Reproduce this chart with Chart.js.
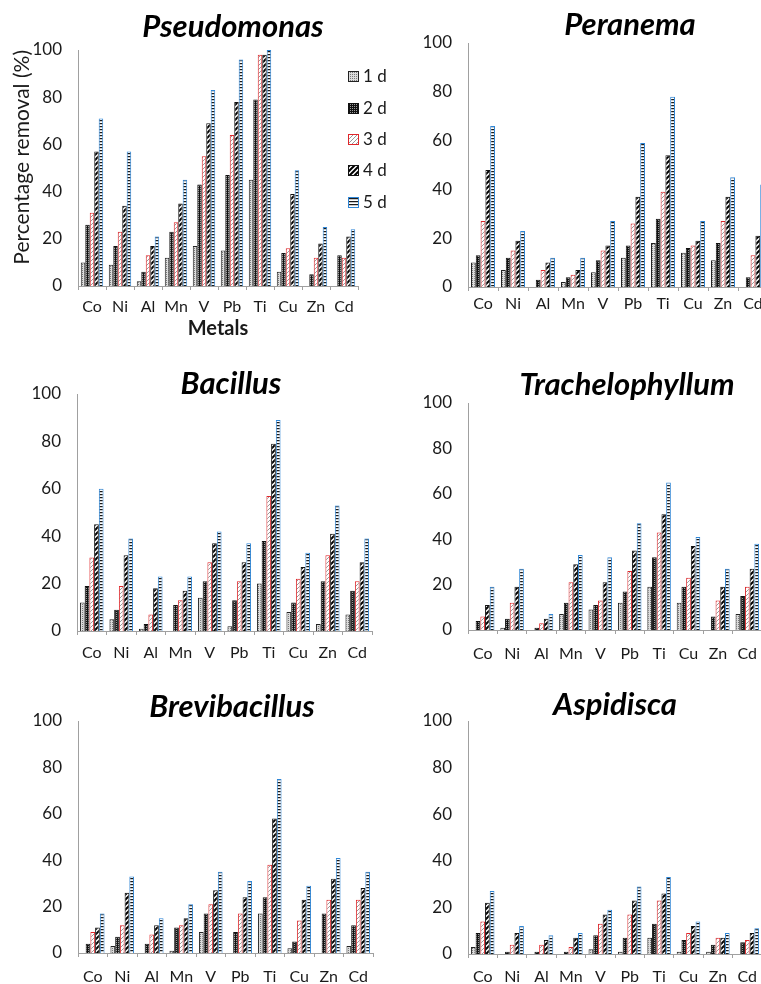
<!DOCTYPE html>
<html>
<head>
<meta charset="utf-8">
<script src="https://cdn.jsdelivr.net/npm/chart.js@4.4.0/dist/chart.umd.min.js"></script>
<style>
  html, body { margin: 0; padding: 0; background: #fff; width: 761px; height: 984px; overflow: hidden; position: relative; }
  canvas { position: absolute; }
</style>
</head>
<body>
<canvas id="pseudomonasChart"></canvas>
<canvas id="peranemaChart"></canvas>
<canvas id="bacillusChart"></canvas>
<canvas id="trachelophyllumChart"></canvas>
<canvas id="brevibacillusChart"></canvas>
<canvas id="aspidiscaChart"></canvas>
<script>
const metals = ['Co', 'Ni', 'Al', 'Mn', 'V', 'Pb', 'Ti', 'Cu', 'Zn', 'Cd'];
const days = ['1 d', '2 d', '3 d', '4 d', '5 d'];
const yTicks = [0, 20, 40, 60, 80, 100];

// percentage removal, one row per day (1 d .. 5 d), columns follow metals
const pseudomonas = [
    [10, 9, 2, 12, 17, 15, 45, 6, 0, 0],
    [26, 17, 6, 23, 43, 47, 79, 14, 5, 13],
    [31, 23, 13, 27, 55, 64, 98, 16, 12, 12],
    [57, 34, 17, 35, 69, 78, 98, 39, 18, 21],
    [71, 57, 21, 45, 83, 96, 100, 49, 25, 24]
];
const peranema = [
    [10, 7, 0, 2, 6, 12, 18, 14, 11, 0],
    [13, 12, 3, 4, 11, 17, 28, 16, 18, 4],
    [27, 15, 7, 5, 15, 26, 39, 17, 27, 13],
    [48, 19, 10, 7, 17, 37, 54, 19, 37, 21],
    [66, 23, 12, 12, 27, 59, 78, 27, 45, 42]
];
const bacillus = [
    [12, 5, 1, 0, 14, 2, 20, 8, 3, 7],
    [19, 9, 3, 11, 21, 13, 38, 12, 21, 17],
    [31, 19, 7, 13, 29, 21, 57, 22, 32, 21],
    [45, 32, 18, 17, 37, 29, 79, 27, 41, 29],
    [60, 39, 23, 23, 42, 37, 89, 33, 53, 39]
];
const trachelophyllum = [
    [0, 1, 0, 7, 9, 12, 19, 12, 0, 7],
    [4, 5, 1, 12, 11, 17, 32, 19, 6, 15],
    [6, 12, 3, 21, 13, 26, 43, 23, 13, 19],
    [11, 19, 5, 29, 21, 35, 51, 37, 19, 27],
    [19, 27, 7, 33, 32, 47, 65, 41, 27, 38]
];
const brevibacillus = [
    [0, 3, 0, 1, 9, 0, 17, 2, 0, 3],
    [4, 7, 4, 11, 17, 9, 24, 5, 17, 12],
    [9, 12, 8, 12, 21, 17, 38, 14, 23, 23],
    [11, 26, 12, 15, 27, 24, 58, 23, 32, 28],
    [17, 33, 15, 21, 35, 31, 75, 29, 41, 35]
];
const aspidisca = [
    [3, 0, 0, 0, 2, 1, 7, 1, 1, 0],
    [9, 1, 1, 1, 8, 7, 13, 6, 4, 5],
    [14, 4, 4, 3, 13, 17, 23, 9, 7, 6],
    [22, 9, 6, 7, 17, 23, 26, 12, 7, 9],
    [27, 12, 8, 9, 19, 29, 33, 14, 9, 11]
];

const FONT = 'Lato, "Open Sans", sans-serif';
const axisGray = '#a0a0a0';
Chart.defaults.font.family = FONT;
Chart.defaults.color = '#1a1a1a';

function makePattern(w, h, draw) {
    const c = document.createElement('canvas');
    c.width = w;
    c.height = h;
    const g = c.getContext('2d');
    draw(g, w, h);
    return g.createPattern(c, 'repeat');
}

const fills = [
    // 1 d - light grey stipple
    makePattern(2, 2, (g) => {
        g.fillStyle = '#dcdcdc'; g.fillRect(0, 0, 2, 2);
        g.fillStyle = '#7a7a7a'; g.fillRect(0, 0, 1, 1);
    }),
    // 2 d - dark stipple
    makePattern(2, 2, (g) => {
        g.fillStyle = '#111'; g.fillRect(0, 0, 2, 2);
        g.fillStyle = '#9a9a9a'; g.fillRect(0, 0, 1, 1);
    }),
    // 3 d - light diagonal
    makePattern(4, 4, (g) => {
        g.fillStyle = '#fff'; g.fillRect(0, 0, 4, 4);
        g.fillStyle = '#9a9a9a';
        g.fillRect(0, 3, 1, 1); g.fillRect(1, 2, 1, 1); g.fillRect(2, 1, 1, 1); g.fillRect(3, 0, 1, 1);
    }),
    // 4 d - wide black diagonal
    makePattern(5, 5, (g, w, h) => {
        g.fillStyle = '#fff'; g.fillRect(0, 0, w, h);
        g.strokeStyle = '#000'; g.lineWidth = 2;
        g.beginPath();
        g.moveTo(-1, h + 1); g.lineTo(w + 1, -1);
        g.moveTo(-1, 1); g.lineTo(1, -1);
        g.moveTo(w - 1, h + 1); g.lineTo(w + 1, h - 1);
        g.stroke();
    }),
    // 5 d - horizontal lines
    makePattern(1, 3, (g) => {
        g.fillStyle = '#fff'; g.fillRect(0, 0, 1, 3);
        g.fillStyle = '#1a1a1a'; g.fillRect(0, 0, 1, 1);
        g.fillStyle = '#c8c8c8'; g.fillRect(0, 1, 1, 1);
    })
];
const borders = ['#222', '#111', '#e0262a', '#111', '#2f86d6'];

const panelTitle = {
    id: 'panelTitle',
    afterDraw(chart, args, opts) {
        const ctx = chart.ctx;
        ctx.save();
        ctx.font = 'italic bold 31px ' + FONT;
        ctx.fillStyle = '#000';
        ctx.textAlign = 'center';
        ctx.textBaseline = 'alphabetic';
        ctx.fillText(opts.text, opts.x, opts.y);
        ctx.restore();
    }
};

const dayLegend = {
    id: 'dayLegend',
    afterDraw(chart, args, opts) {
        const ctx = chart.ctx;
        ctx.save();
        chart.data.datasets.forEach((ds, i) => {
            const y = opts.rows[i];
            ctx.fillStyle = ds.backgroundColor;
            ctx.fillRect(opts.x, y - 5, 11, 11);
            ctx.strokeStyle = ds.borderColor;
            ctx.lineWidth = 1;
            ctx.strokeRect(opts.x + 0.5, y - 4.5, 10, 10);
            ctx.fillStyle = '#1a1a1a';
            ctx.font = '17px ' + FONT;
            ctx.textAlign = 'left';
            ctx.textBaseline = 'middle';
            ctx.fillText(ds.label, opts.x + 15, y + 1);
        });
        ctx.restore();
    }
};

// canvas box and plot area in page pixels
const panels = [
    { id: 'pseudomonasChart', name: 'Pseudomonas', values: pseudomonas,
      box: [0, 0, 400, 342], area: [78, 50, 358, 286], titleAt: [233, 37], labelPad: 7,
      yTitle: 'Percentage removal (%)', xTitle: 'Metals', legend: true },
    { id: 'peranemaChart', name: 'Peranema', values: peranema,
      box: [420, 0, 360, 320], area: [468, 43, 768, 287], titleAt: [630, 35], labelPad: 3 },
    { id: 'bacillusChart', name: 'Bacillus', values: bacillus,
      box: [0, 350, 380, 320], area: [77, 394, 372, 631], titleAt: [231, 394], labelPad: 8 },
    { id: 'trachelophyllumChart', name: 'Trachelophyllum', values: trachelophyllum,
      box: [420, 350, 360, 320], area: [468, 403, 762, 630], titleAt: [627, 395], labelPad: 10 },
    { id: 'brevibacillusChart', name: 'Brevibacillus', values: brevibacillus,
      box: [0, 680, 380, 304], area: [78, 721, 373, 953], titleAt: [232, 717], labelPad: 10 },
    { id: 'aspidiscaChart', name: 'Aspidisca', values: aspidisca,
      box: [420, 680, 360, 304], area: [468, 721, 762, 954], titleAt: [615, 715], labelPad: 9 }
];

panels.forEach(function (p) {
    const [bx, by, bw, bh] = p.box;
    const [al, at, ar, ab] = p.area;
    const canvas = document.getElementById(p.id);
    canvas.width = bw;
    canvas.height = bh;
    canvas.style.left = bx + 'px';
    canvas.style.top = by + 'px';
    canvas.style.width = bw + 'px';
    canvas.style.height = bh + 'px';

    const yWidth = al - bx;
    const xHeight = by + bh - ab;

    new Chart(canvas.getContext('2d'), {
        type: 'bar',
        data: {
            labels: metals,
            datasets: days.map((d, i) => ({
                label: d,
                data: p.values[i],
                backgroundColor: fills[i],
                borderColor: borders[i],
                borderWidth: 1,
                categoryPercentage: 0.8,
                barPercentage: 1.0
            }))
        },
        options: {
            responsive: false,
            animation: false,
            devicePixelRatio: 1,
            layout: { padding: { top: at - by, right: bx + bw - ar, left: 0, bottom: 0 } },
            plugins: {
                legend: { display: false },
                tooltip: { enabled: false },
                panelTitle: { text: p.name, x: p.titleAt[0] - bx, y: p.titleAt[1] - by },
                dayLegend: { x: 348 - bx, rows: [76, 108, 139, 170, 202] }
            },
            scales: {
                x: {
                    offset: true,
                    grid: { display: true, offset: true, drawOnChartArea: false, drawTicks: true, tickLength: 4, color: axisGray },
                    border: { display: true, color: axisGray, width: 1 },
                    ticks: { font: { size: 16 }, color: '#1a1a1a', padding: p.labelPad, maxRotation: 0, autoSkip: false },
                    title: {
                        display: !!p.xTitle, text: p.xTitle || '',
                        font: { size: 20, weight: 'bold' }, color: '#1a1a1a',
                        padding: { top: 0, bottom: 1 }
                    },
                    afterFit: (scale) => { scale.height = xHeight; }
                },
                y: {
                    min: 0,
                    max: 100,
                    afterBuildTicks: (scale) => { scale.ticks = yTicks.map(v => ({ value: v })); },
                    grid: { display: false },
                    border: { display: true, color: axisGray, width: 1 },
                    ticks: { font: { size: 17 }, color: '#1a1a1a', padding: 8 },
                    title: {
                        display: !!p.yTitle, text: p.yTitle || '', align: 'end',
                        font: { size: 21 }, color: '#1a1a1a',
                        padding: { top: 10, bottom: 0 }
                    },
                    afterFit: (scale) => { scale.width = yWidth; }
                }
            }
        },
        plugins: p.legend ? [panelTitle, dayLegend] : [panelTitle]
    });
});
</script>
</body>
</html>
